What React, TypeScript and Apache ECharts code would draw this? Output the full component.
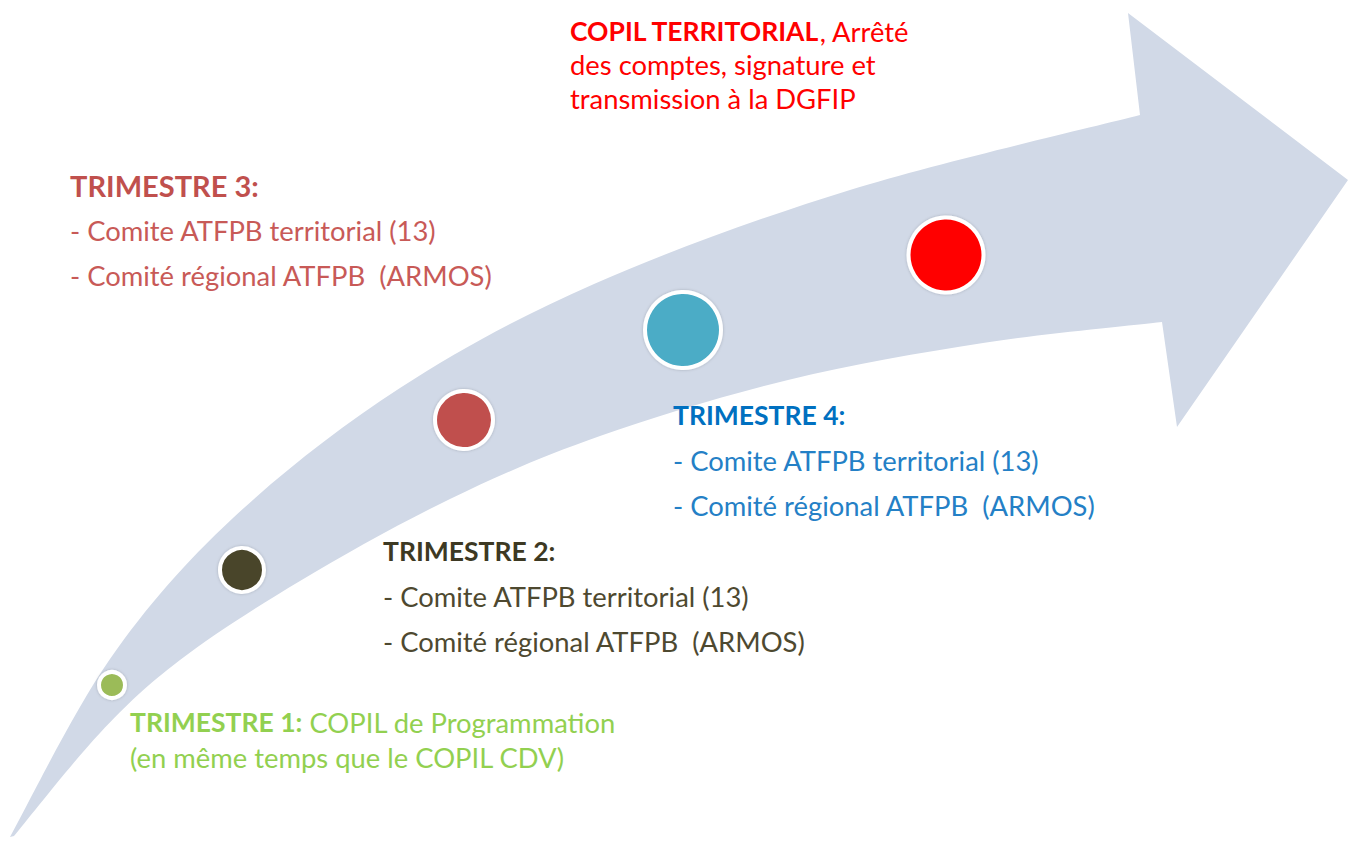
import React, { useEffect, useRef } from 'react';
import * as echarts from 'echarts';

// ---- Arrow outline (pixel-like value scale: x 0..1351, y 0..843 top-down)
const upperEdgeX = [10, 110, 233, 400, 594, 850, 1140];
const upperEdgeY = [837, 659, 518, 388, 284, 190, 115];
const headX = [1128, 1348, 1177, 1162];
const headY = [13, 180, 427, 322];
const lowerEdgeX = [1162, 983, 788, 600, 450, 300, 180, 100, 14];
const lowerEdgeY = [322, 343, 380, 436, 499, 581, 660, 733, 836];

// ---- Milestones
const milestones = ['Trimestre 1', 'Trimestre 2', 'Trimestre 3', 'Trimestre 4', 'COPIL territorial'];
const milestoneX = [112, 242, 464, 683, 946];
const milestoneY = [685, 570, 420, 330, 255];

// ---- Texts
const copilTitle = 'COPIL TERRITORIAL';
const copilLines = [', Arrêté', 'des comptes, signature et', 'transmission à la DGFIP'];
const t1Title = 'TRIMESTRE 1:';
const t1Lines = [' COPIL de Programmation', '(en même temps que le COPIL CDV)'];
const t2Title = 'TRIMESTRE 2:';
const t3Title = 'TRIMESTRE 3:';
const t4Title = 'TRIMESTRE 4:';
const committeeLines = ['- Comite ATFPB territorial (13)', '- Comité régional ATFPB  (ARMOS)'];

// ---- Styles
const SIZES = [26, 44, 58, 76, 75];
const COLORS = ['#9BBB59', '#4A452A', '#C0504D', '#4BACC6', '#FF0000'];
const FONT = 'Lato, "Open Sans", sans-serif';
const FS = 27.4;
const FSB = 26.5;

function curve(pts: number[][]): string {
  let d = '';
  for (let i = 0; i < pts.length - 1; i++) {
    const p0 = pts[i - 1] || pts[i];
    const p1 = pts[i];
    const p2 = pts[i + 1];
    const p3 = pts[i + 2] || p2;
    const c1x = p1[0] + (p2[0] - p0[0]) / 6;
    const c1y = p1[1] + (p2[1] - p0[1]) / 6;
    const c2x = p2[0] - (p3[0] - p1[0]) / 6;
    const c2y = p2[1] - (p3[1] - p1[1]) / 6;
    d += ` C${c1x},${c1y} ${c2x},${c2y} ${p2[0]},${p2[1]}`;
  }
  return d;
}

function textEl(x: number, y: number, text: string, color: string, bold = false, size = FS, rich?: any) {
  return {
    type: 'text',
    x,
    y,
    z: 10,
    style: {
      text,
      fill: color,
      fontFamily: FONT,
      fontSize: size,
      fontWeight: bold ? 'bold' : 'normal',
      align: 'left',
      verticalAlign: 'middle',
      rich,
    },
  };
}

function block(x: number, y: number, title: string, lines: string[], titleColor: string, bodyColor: string, gap: number, titleSize = FSB) {
  const els: any[] = [textEl(x, y, title, titleColor, true, titleSize)];
  lines.forEach((l, i) => els.push(textEl(x, y + gap * (i + 1), l, bodyColor)));
  return els;
}

export default function App() {
  const ref = useRef<HTMLDivElement>(null);
  useEffect(() => {
    if (!ref.current) return;
    const chart = echarts.init(ref.current, undefined, { renderer: 'svg' });

    const richCopil = {
      b: { fontFamily: FONT, fontSize: FSB, fontWeight: 'bold', color: '#FF0000' },
      n: { fontFamily: FONT, fontSize: FS, fontWeight: 'normal', color: '#FF0000' },
    };
    const richT1 = {
      b: { fontFamily: FONT, fontSize: FSB, fontWeight: 'bold', color: '#92D050' },
      n: { fontFamily: FONT, fontSize: FS, fontWeight: 'normal', color: '#92D050' },
    };

    const graphics: any[] = [
      textEl(570, 31, `{b|${copilTitle}}{n|${copilLines[0]}}`, '#FF0000', false, FS, richCopil),
      textEl(570, 64, copilLines[1], '#FF0000'),
      textEl(570, 98, copilLines[2], '#FF0000'),
      ...block(70, 185, t3Title, committeeLines, '#C0504D', '#C85A57', 45, 29),
      ...block(673, 415, t4Title, committeeLines, '#0070C0', '#2480C6', 45),
      ...block(383, 551, t2Title, committeeLines, '#3D3923', '#4E4930', 45),
      textEl(130, 722, `{b|${t1Title}}{n|${t1Lines[0]}}`, '#92D050', false, FS, richT1),
      textEl(130, 757, t1Lines[1], '#92D050'),
    ];

    chart.setOption({
      animation: false,
      backgroundColor: '#ffffff',
      grid: { left: 0, right: 0, top: 0, bottom: 0 },
      xAxis: { type: 'value', min: 0, max: 1351, show: false },
      yAxis: { type: 'value', min: 0, max: 843, inverse: true, show: false },
      series: [
        {
          type: 'custom',
          name: 'arrow',
          coordinateSystem: 'cartesian2d',
          clip: false,
          z: 1,
          silent: true,
          data: [[0, 0]],
          renderItem: (_params: any, api: any) => {
            const up = upperEdgeX.map((x, i) => api.coord([x, upperEdgeY[i]]));
            const head = headX.map((x, i) => api.coord([x, headY[i]]));
            const low = lowerEdgeX.map((x, i) => api.coord([x, lowerEdgeY[i]]));
            let d = `M${up[0][0]},${up[0][1]}` + curve(up);
            head.forEach((p) => (d += ` L${p[0]},${p[1]}`));
            d += ` L${low[0][0]},${low[0][1]}` + curve(low) + ' Z';
            return { type: 'path', shape: { pathData: d }, style: { fill: '#D1D9E7' } };
          },
        },
        {
          type: 'scatter',
          name: 'milestones',
          z: 3,
          symbol: 'circle',
          data: milestones.map((n, i) => ({
            name: n,
            value: [milestoneX[i], milestoneY[i]],
            symbolSize: SIZES[i],
            itemStyle: {
              color: COLORS[i],
              opacity: 1,
              borderColor: '#ffffff',
              borderWidth: 4,
              shadowColor: 'rgba(0,0,0,0.2)',
              shadowBlur: 3,
            },
          })),
        },
      ],
      graphic: graphics,
    });
    return () => chart.dispose();
  }, []);
  return <div ref={ref} style={{ position: 'fixed', left: 0, top: 0, width: 1351, height: 843 }} />;
}
